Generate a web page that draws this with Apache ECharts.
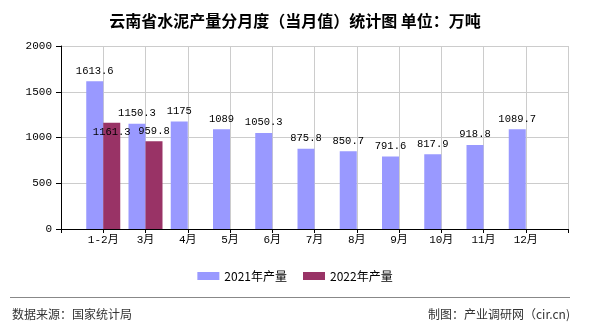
<!DOCTYPE html>
<html>
<head>
<meta charset="utf-8">
<script src="https://cdn.jsdelivr.net/npm/echarts@6/dist/echarts.min.js"></script>
<style>html,body{margin:0;padding:0;background:#fff}#c{width:590px;height:330px}</style>
</head>
<body>
<div id="c"></div>
<script>
var categories = ['1-2月','3月','4月','5月','6月','7月','8月','9月','10月','11月','12月'];
var values2021 = [1613.6,1150.3,1175,1089,1050.3,875.8,850.7,791.6,817.9,918.8,1089.7];
var values2022 = [1161.3,959.8];
var seriesNames = ['2021年产量','2022年产量'];
var titleText = '云南省水泥产量分月度（当月值）统计图 单位：万吨';
var sourceText = '数据来源：国家统计局';
var makerText = '制图：产业调研网（cir.cn)';

var monoFont = "'Liberation Mono','DejaVu Sans Mono','Noto Sans CJK SC',monospace";
var chart = echarts.init(document.getElementById('c'), null, {renderer:'canvas'});

var d2021 = values2021.map(function(v,i){ return [i+1, v]; });
var d2022 = values2022.map(function(v,i){
  var item = {value:[i+1, v]};
  if (i === 0) item.label = {offset:[0, 20]};
  return item;
});

var labelStyle = {show:true, position:'top', distance:5, color:'#000', fontFamily:monoFont, fontSize:10.5,
  formatter:function(p){ return p.value[1]; }};

chart.setOption({
  animation:false,
  backgroundColor:'#fff',
  title:{text:titleText, left:'center', top:8,
    textStyle:{fontSize:16, fontWeight:'bold', color:'#000', fontFamily:"'Noto Sans CJK SC',sans-serif"}},
  legend:{bottom:43, left:'center', itemWidth:22, itemHeight:8, itemGap:16, icon:'rect',
    textStyle:{fontSize:12, color:'#000', fontFamily:"'Noto Sans CJK SC',sans-serif"},
    data:seriesNames},
  grid:{left:61, right:22, top:46, bottom:101, containLabel:false},
  xAxis:{type:'value', min:0, max:categories.length+1, interval:1,
    axisLine:{show:true, lineStyle:{color:'#000'}},
    axisTick:{show:true, length:4, lineStyle:{color:'#000'}},
    splitLine:{show:true, lineStyle:{color:'#ccc'}},
    axisLabel:{margin:6, color:'#000', fontSize:11, fontFamily:monoFont,
      formatter:function(v){ return categories[v-1] || ''; }}},
  yAxis:{type:'value', min:0, max:2000, interval:500,
    axisLine:{show:true, lineStyle:{color:'#000'}},
    axisTick:{show:true, length:5, lineStyle:{color:'#000'}},
    splitLine:{show:true, lineStyle:{color:'#ccc'}},
    axisLabel:{margin:9, color:'#000', fontSize:11, fontFamily:monoFont,
      formatter:function(v){ return String(v); }}},
  series:[
    {name:seriesNames[0], type:'bar', data:d2021, barWidth:17, barGap:'0%',
     itemStyle:{color:'#9999FF'}, label:labelStyle},
    {name:seriesNames[1], type:'bar', data:d2022, barWidth:17, barGap:'0%',
     itemStyle:{color:'#993366'}, label:labelStyle}
  ],
  graphic:[
    {type:'line', shape:{x1:10, y1:297.5, x2:570, y2:297.5}, style:{stroke:'#888', lineWidth:1}},
    {type:'text', left:12, top:308, style:{text:sourceText, fontSize:12, fill:'#333', fontFamily:"'Noto Sans CJK SC',sans-serif"}},
    {type:'text', right:20, top:308, style:{text:makerText, fontSize:12, fill:'#333', fontFamily:"'Noto Sans CJK SC',sans-serif"}}
  ]
});
</script>
</body>
</html>
